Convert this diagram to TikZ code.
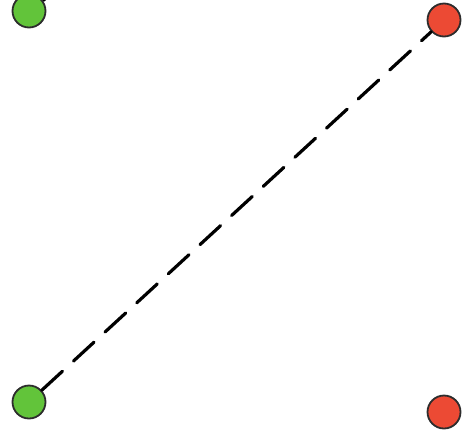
\documentclass[tikz,border=0pt]{standalone}
\usetikzlibrary{positioning}
\definecolor{dotGreen}{RGB}{98,196,58}
\definecolor{dotRed}{RGB}{236,74,52}
\definecolor{dotEdge}{RGB}{45,45,45}
\begin{document}
\begin{tikzpicture}[
    x=1pt, y=-1pt,
    dot/.style={circle, draw=dotEdge, line width=1.8pt, minimum size=33pt, inner sep=0pt},
    greenDot/.style={dot, fill=dotGreen},
    redDot/.style={dot, fill=dotRed},
    link/.style={line width=3.2pt, line cap=round, dash pattern=on 28pt off 15pt},
    stub/.style={line width=3.2pt},
  ]
    \useasboundingbox (0,0) rectangle (473,429);
    \clip (0,0) rectangle (473,429);

    % Points
    \node[greenDot] (gTop) at (29,11) {};
    \node[redDot]   (rTop) at (444,20) {};
    \node[greenDot] (gBot) at (29,402) {};
    \node[redDot]   (rBot) at (444,412) {};
    \coordinate (offTop) at (62,-14);

    % Links
    \draw[link] (gBot) -- (rTop);
    \draw[stub] (gTop) -- (offTop);
  \end{tikzpicture}
\end{document}
